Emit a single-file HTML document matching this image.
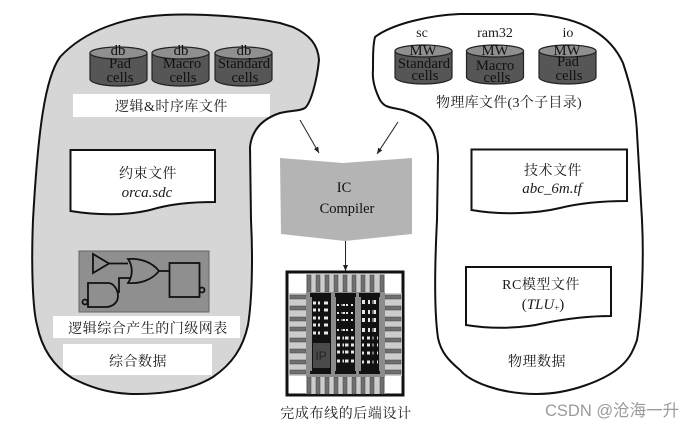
<!DOCTYPE html>
<html><head><meta charset="utf-8"><style>
html,body{margin:0;padding:0;background:#fff}
svg{display:block;font-family:"Liberation Serif","Noto Serif CJK SC",serif}
text{fill:#1c1c1c}
.c{text-anchor:middle}
.cy{font-size:14.7px;fill:#111}
.zh{font-size:14px;letter-spacing:.5px}
</style></head><body>
<svg width="696" height="427" viewBox="0 0 696 427" xmlns="http://www.w3.org/2000/svg">
<defs>
<g id="cyl"><path d="M0 7V33C0 37 13 40 28.500 40S57 37 57 33V7Z" fill="#565656" stroke="#222" stroke-width="1.200"/><ellipse cx="28.500" cy="7" rx="28.500" ry="6" fill="#8f8f8f" stroke="#222" stroke-width="1.200"/></g>
<marker id="a" markerWidth="8" markerHeight="8" refX="6" refY="2.500" orient="auto"><path d="M0 0L6 2.500L0 5Z" fill="#222"/></marker>
</defs>
<rect width="696" height="427" fill="#fff"/>

<!-- left blob -->
<path d="M280 23C250 17 200 13 165 15C125 17 85 30 60 57C45 78 38 130 33 220C31 270 33 310 37 325C42 350 55 367 72 378C95 390 115 394 137 394C170 394 195 388 213 377C232 364 243 348 248 325C252 300 253 260 251 220L250 147C252 128 265 118 280 113C295 110 300 111 305 108C311 103 317 80 319 60C318 45 310 35 293 27Z" fill="#d6d6d6"/>
<!-- right blob -->
<path d="M375 37C392 24 430 15 460 14L533 14C560 16 580 22 593 30C610 40 618 52 623 63C632 90 636 110 637 133L642 220C644 260 642 310 637 340C632 354 628 360 620 367C605 380 570 394 537 394C500 394 470 382 460 370C448 360 441 352 438 338C434 310 435 260 437 220L438 157C437 130 428 118 403 110C390 107 385 108 380 100C375 90 372 80 373 70C373 55 373 45 375 37Z" fill="#fff" stroke="#111" stroke-width="2"/>

<!-- left cylinders -->
<use href="#cyl" x="90" y="46"/><use href="#cyl" x="152" y="46"/><use href="#cyl" x="215" y="46"/>
<text class="c cy" x="118" y="55">db</text><text class="c cy" x="120" y="68">Pad</text><text class="c cy" x="120" y="82">cells</text>
<text class="c cy" x="181" y="55">db</text><text class="c cy" x="182" y="68">Macro</text><text class="c cy" x="183" y="82">cells</text>
<text class="c cy" x="244" y="55">db</text><text class="c cy" x="244" y="68">Standard</text><text class="c cy" x="245" y="82">cells</text>
<rect x="73" y="94" width="197" height="23" fill="#fff"/>
<text class="c zh" x="171.500" y="111">逻辑&amp;时序库文件</text>

<!-- orca.sdc -->
<path d="M70.500 150H215V202C190 202 170 204 150 210C125 216 95 215 70.500 211Z" fill="#fff" stroke="#111" stroke-width="2"/>
<text class="c zh" x="148" y="178">约束文件</text>
<text class="c" x="147" y="197" font-size="15" font-style="italic">orca.sdc</text>

<!-- netlist -->
<rect x="79" y="251" width="130" height="61" fill="#8f8f8f" stroke="#666"/>
<g fill="none" stroke="#111" stroke-width="1.800">
<path d="M93 254V273L109 263.500Z"/>
<path d="M109 263.500H128"/>
<path d="M128 259C140 258 152 262 159 271C152 280 140 284 128 283C133 276 133 266 128 259Z"/>
<path d="M159 271H170"/>
<rect x="169.500" y="263" width="30" height="34"/>
<circle cx="202" cy="290" r="2.500"/>
<path d="M130 278H119V293"/>
<path d="M88 283H108C114 283 118 290 118 296C118 303 112 307 106 307H88Z"/>
<circle cx="85" cy="302" r="2.500"/>
</g>
<rect x="53" y="316" width="187" height="22" fill="#fff"/>
<text class="c zh" x="148" y="333">逻辑综合产生的门级网表</text>
<rect x="63" y="344" width="149" height="31" fill="#fff"/>
<text class="c zh" x="138" y="366">综合数据</text>

<!-- left blob outline on top of labels -->
<path d="M280 23C250 17 200 13 165 15C125 17 85 30 60 57C45 78 38 130 33 220C31 270 33 310 37 325C42 350 55 367 72 378C95 390 115 394 137 394C170 394 195 388 213 377C232 364 243 348 248 325C252 300 253 260 251 220L250 147C252 128 265 118 280 113C295 110 300 111 305 108C311 103 317 80 319 60C318 45 310 35 293 27Z" fill="none" stroke="#111" stroke-width="2"/>

<!-- right cylinders -->
<text class="c" x="422" y="37" font-size="14">sc</text>
<text class="c" x="495" y="37" font-size="14">ram32</text>
<text class="c" x="568" y="37" font-size="14">io</text>
<use href="#cyl" x="395" y="44"/><use href="#cyl" x="466.500" y="44"/><use href="#cyl" x="539" y="44"/>
<text class="c cy" x="423" y="55">MW</text><text class="c cy" x="424" y="68">Standard</text><text class="c cy" x="425" y="80">cells</text>
<text class="c cy" x="495" y="55">MW</text><text class="c cy" x="495" y="70">Macro</text><text class="c cy" x="497" y="82">cells</text>
<text class="c cy" x="567" y="55">MW</text><text class="c cy" x="568" y="66">Pad</text><text class="c cy" x="569" y="80">cells</text>
<text class="c zh" x="509" y="107" style="letter-spacing:.3px">物理库文件(3个子目录)</text>

<!-- abc_6m -->
<path d="M471.500 149.500H627V201C600 201 580 203 560 208C535 214 500 215 471.500 210Z" fill="#fff" stroke="#111" stroke-width="2"/>
<text class="c zh" x="553" y="175">技术文件</text>
<text class="c" x="552" y="193" font-size="15" font-style="italic">abc_6m.tf</text>

<!-- RC -->
<path d="M466 267H611V316C585 316 565 319 545 323C520 329 490 329 466 325Z" fill="#fff" stroke="#111" stroke-width="2"/>
<text class="c zh" x="541" y="289">RC模型文件</text>
<text class="c" x="543" y="309" font-size="15">(<tspan font-style="italic">TLU</tspan><tspan font-size="9" dy="2">+</tspan><tspan dy="-2">)</tspan></text>
<text class="c zh" x="537" y="366">物理数据</text>

<!-- arrows -->
<path d="M300 120L319 153" stroke="#222" stroke-width="1" fill="none" marker-end="url(#a)"/>
<path d="M398 122L377 154" stroke="#222" stroke-width="1" fill="none" marker-end="url(#a)"/>
<path d="M345.500 241V271" stroke="#222" stroke-width="1" fill="none" marker-end="url(#a)"/>

<!-- IC Compiler -->
<path d="M280 158L343 163L412 158V234L345 241L281 234Z" fill="#b4b4b4"/>
<text class="c" x="344" y="192" font-size="14.500" style="fill:#111">IC</text>
<text class="c" x="347" y="213" font-size="14.500" style="fill:#111">Compiler</text>

<!-- chip -->
<rect x="287" y="272" width="116" height="123" fill="#fff" stroke="#111" stroke-width="3"/>
<rect x="306" y="274" width="79" height="19" fill="#ccc"/>
<rect x="306" y="376" width="79" height="18" fill="#ccc"/>
<rect x="289" y="293" width="18" height="83" fill="#ccc"/>
<rect x="384" y="293" width="18" height="83" fill="#ccc"/>
<g fill="#6f6f6f" stroke="#444" stroke-width=".5">
<rect x="307" y="275" width="4" height="17"/><rect x="316" y="275" width="4" height="17"/><rect x="325" y="275" width="4" height="17"/><rect x="334" y="275" width="4" height="17"/><rect x="343" y="275" width="4" height="17"/><rect x="352" y="275" width="4" height="17"/><rect x="361" y="275" width="4" height="17"/><rect x="370" y="275" width="4" height="17"/><rect x="380" y="275" width="4" height="17"/>
<rect x="307" y="377" width="4" height="17"/><rect x="316" y="377" width="4" height="17"/><rect x="325" y="377" width="4" height="17"/><rect x="334" y="377" width="4" height="17"/><rect x="343" y="377" width="4" height="17"/><rect x="352" y="377" width="4" height="17"/><rect x="361" y="377" width="4" height="17"/><rect x="370" y="377" width="4" height="17"/><rect x="380" y="377" width="4" height="17"/>
<rect x="290" y="295" width="16" height="4"/><rect x="290" y="306" width="16" height="4"/><rect x="290" y="317" width="16" height="4"/><rect x="290" y="327" width="16" height="4"/><rect x="290" y="338" width="16" height="4"/><rect x="290" y="349" width="16" height="4"/><rect x="290" y="360" width="16" height="4"/><rect x="290" y="370" width="16" height="4"/>
<rect x="385" y="295" width="16" height="4"/><rect x="385" y="306" width="16" height="4"/><rect x="385" y="317" width="16" height="4"/><rect x="385" y="327" width="16" height="4"/><rect x="385" y="338" width="16" height="4"/><rect x="385" y="349" width="16" height="4"/><rect x="385" y="360" width="16" height="4"/><rect x="385" y="370" width="16" height="4"/>
</g>
<rect x="306" y="292" width="79" height="85" fill="#8c8c8c"/>
<g fill="#111">
<rect x="310" y="293" width="21" height="4"/><rect x="335" y="293" width="21" height="4"/><rect x="359" y="293" width="21" height="4"/>
<rect x="312" y="296" width="19" height="77"/><rect x="336" y="296" width="19" height="77"/><rect x="361" y="296" width="18" height="77"/>
<rect x="310" y="371" width="21" height="3"/><rect x="335" y="371" width="21" height="3"/><rect x="359" y="371" width="21" height="3"/>
</g>
<g stroke="#e8e8e8" fill="none">
<path stroke-width="3" stroke-dasharray="3 2 2 4 4 2" d="M313 303H330M313 310H330M313 318H330M313 325H330M313 333H330"/>
<path stroke-width="2" stroke-dasharray="2 2 4 1 2 3" d="M337 305H355M337 313H355M337 320H355M337 330H355"/>
<path stroke-width="3" stroke-dasharray="3 2 2 1 4 2" d="M337 338H355M337 345H355M337 352H355M337 361H355"/>
<path stroke-width="4" stroke-dasharray="3 3 2 2 4 2" d="M362 302H378M362 312H378M362 320H378M362 330H378"/>
<path stroke-width="3" stroke-dasharray="2 3 3 2" d="M362 338H378M362 345H378M362 353H378M362 362H378"/>
</g>
<g stroke="#111" stroke-width="1" fill="none">
<path d="M317 297V340M323 297V340M342 297V368M349 297V368M366 297V368M373 297V368"/>
</g>
<rect x="313" y="343" width="17" height="25" fill="#4a4a4a"/>
<text class="c" x="321" y="360" font-size="12" style="fill:#222;font-family:'Liberation Sans',sans-serif">IP</text>
<text class="c" x="346" y="418" font-size="14" style="letter-spacing:.6px">完成布线的后端设计</text>

<!-- watermark -->
<text x="545" y="416" font-size="16.500" style="fill:#9a9a9a;font-family:'Liberation Sans','Noto Sans CJK SC',sans-serif">CSDN @沧海一升</text>
</svg>
</body></html>
